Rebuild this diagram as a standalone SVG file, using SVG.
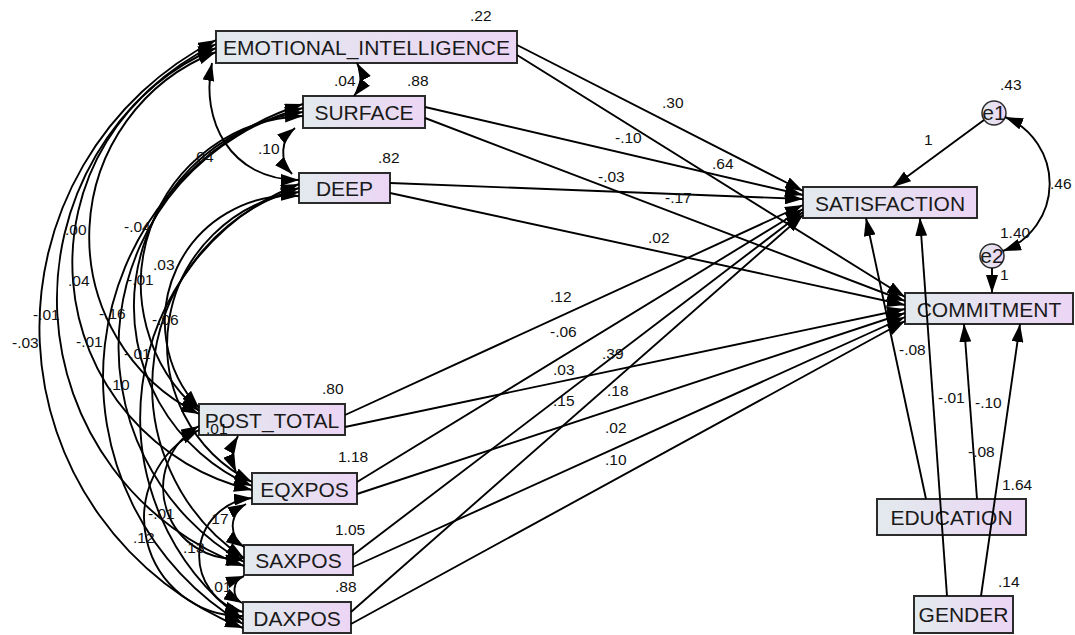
<svg xmlns="http://www.w3.org/2000/svg" width="1075" height="635" viewBox="0 0 1075 635">
<defs>
<linearGradient id="ng" x1="0" y1="0" x2="1" y2="0">
<stop offset="0" stop-color="#e2eaed"/>
<stop offset="1" stop-color="#ecd5f5"/>
</linearGradient>
<marker id="ah" viewBox="0 0 18 12" refX="18" refY="6" markerWidth="18" markerHeight="12" markerUnits="userSpaceOnUse" orient="auto-start-reverse">
<path d="M0,0 L18,6 L0,12 z" fill="#000"/>
</marker>
</defs>
<style>
.box{fill:url(#ng);stroke:#2b2b2b;stroke-width:2}
.circ{fill:url(#ng);stroke:#2b2b2b;stroke-width:1.5}
.nt{font-family:"Liberation Sans",Arial,sans-serif;font-size:21px;fill:#1a1a1a;text-anchor:middle}
.lb{font-family:"Liberation Sans",Arial,sans-serif;font-size:15.5px;fill:#111}
.reg{fill:none;stroke:#000;stroke-width:1.9;marker-end:url(#ah)}
.cov{fill:none;stroke:#000;stroke-width:1.9;marker-start:url(#ah);marker-end:url(#ah)}
</style>
<rect width="1075" height="635" fill="#fff"/>

<g id="EMOTIONAL_INTELLIGENCE"><rect class="box" x="216" y="31" width="301" height="32"/><text class="nt" x="366.5" y="54.5">EMOTIONAL_INTELLIGENCE</text></g>
<g id="SURFACE"><rect class="box" x="303" y="96" width="122" height="32"/><text class="nt" x="364" y="119.5">SURFACE</text></g>
<g id="DEEP"><rect class="box" x="299" y="173" width="91" height="30"/><text class="nt" x="344.5" y="195.5">DEEP</text></g>
<g id="SATISFACTION"><rect class="box" x="803" y="187" width="174" height="31"/><text class="nt" x="890" y="210.5">SATISFACTION</text></g>
<g id="COMMITMENT"><rect class="box" x="905" y="293" width="168" height="31"/><text class="nt" x="989" y="316.5">COMMITMENT</text></g>
<g id="POST_TOTAL"><rect class="box" x="199" y="404" width="146" height="31"/><text class="nt" x="272" y="427.5">POST_TOTAL</text></g>
<g id="EQXPOS"><rect class="box" x="252" y="473" width="105" height="31"/><text class="nt" x="304.5" y="496.5">EQXPOS</text></g>
<g id="SAXPOS"><rect class="box" x="244" y="545" width="109" height="30"/><text class="nt" x="298.5" y="567.5">SAXPOS</text></g>
<g id="DAXPOS"><rect class="box" x="243" y="602" width="108" height="31"/><text class="nt" x="297" y="625.5">DAXPOS</text></g>
<g id="EDUCATION"><rect class="box" x="877" y="499" width="149" height="36"/><text class="nt" x="951.5" y="525">EDUCATION</text></g>
<g id="GENDER"><rect class="box" x="914" y="596" width="99" height="37"/><text class="nt" x="963.5" y="622">GENDER</text></g>
<g id="e1"><circle class="circ" cx="994" cy="113" r="12"/><text class="nt" x="994" y="120">e1</text></g>
<g id="e2"><circle class="circ" cx="992" cy="256" r="12"/><text class="nt" x="992" y="263">e2</text></g>

<g id="connectors">
<line class="reg" x1="517" y1="45" x2="803" y2="191"/>
<line class="reg" x1="425" y1="107" x2="803" y2="195"/>
<line class="reg" x1="390" y1="183" x2="803" y2="199"/>
<line class="reg" x1="345" y1="415" x2="803" y2="205"/>
<line class="reg" x1="357" y1="482" x2="803" y2="209"/>
<line class="reg" x1="353" y1="555" x2="803" y2="212"/>
<line class="reg" x1="351" y1="612" x2="803" y2="215"/>
<line class="reg" x1="517" y1="55" x2="905" y2="297"/>
<line class="reg" x1="425" y1="118" x2="905" y2="301"/>
<line class="reg" x1="390" y1="193" x2="905" y2="305"/>
<line class="reg" x1="345" y1="427" x2="905" y2="309"/>
<line class="reg" x1="357" y1="494" x2="905" y2="313"/>
<line class="reg" x1="353" y1="567" x2="905" y2="317"/>
<line class="reg" x1="351" y1="624" x2="905" y2="321"/>
<line class="reg" x1="926" y1="499" x2="866" y2="218"/>
<line class="reg" x1="947" y1="596" x2="920" y2="218"/>
<line class="reg" x1="977" y1="499" x2="964" y2="324"/>
<line class="reg" x1="981" y1="596" x2="1020" y2="324"/>
<line class="reg" x1="984" y1="120" x2="893" y2="187"/>
<line class="reg" x1="992" y1="268" x2="992" y2="293"/>
<path class="cov" d="M1005,117 A72,72 0 0 1 1003,251"/>
<path class="cov" d="M216,40 A323,323 0 0 0 243,628"/>
<path class="cov" d="M216,44 A284,284 0 0 0 244,566"/>
<path class="cov" d="M216,48 A233,233 0 0 0 252,490"/>
<path class="cov" d="M216,52 A198,198 0 0 0 199,414"/>
<path class="cov" d="M212,63 C200,120 230,180 299,180"/>
<path class="cov" d="M357,63 A30,30 0 0 1 354,96"/>
<path class="cov" d="M295,128 A31,31 0 0 0 292,174"/>
<path class="cov" d="M303,104 A287,287 0 0 0 243,624"/>
<path class="cov" d="M303,108 A247,247 0 0 0 244,562"/>
<path class="cov" d="M303,112 A196,196 0 0 0 252,486"/>
<path class="cov" d="M303,116 A168,168 0 0 0 199,411"/>
<path class="cov" d="M299,184 A251,251 0 0 0 243,620"/>
<path class="cov" d="M299,188 A207,207 0 0 0 244,558"/>
<path class="cov" d="M299,192 A154,154 0 0 0 252,482"/>
<path class="cov" d="M299,196 A126,126 0 0 0 199,408"/>
<path class="cov" d="M199,430 A98,98 0 0 0 243,616"/>
<path class="cov" d="M199,426 A71,71 0 0 0 244,558"/>
<path class="cov" d="M252,498 A58,58 0 0 0 243,612"/>
<path class="cov" d="M238,436 A40,40 0 0 0 236,472"/>
<path class="cov" d="M246,504 A25,25 0 0 0 244,547"/>
<path class="cov" d="M244,576 A15,15 0 0 0 242,603"/>
</g>

<g id="labels" class="lb">
<text x="470" y="21">.22</text>
<text x="407" y="86">.88</text>
<text x="378" y="163">.82</text>
<text x="322" y="394">.80</text>
<text x="338" y="462">1.18</text>
<text x="335" y="535">1.05</text>
<text x="335" y="592">.88</text>
<text x="1000" y="90">.43</text>
<text x="1000" y="238">1.40</text>
<text x="1002" y="490">1.64</text>
<text x="998" y="587">.14</text>
<text x="662" y="108">.30</text>
<text x="615" y="143">-.10</text>
<text x="712" y="169">.64</text>
<text x="598" y="182">-.03</text>
<text x="665" y="203">-.17</text>
<text x="648" y="243">.02</text>
<text x="550" y="302">.12</text>
<text x="550" y="337">-.06</text>
<text x="553" y="375">.03</text>
<text x="553" y="406">.15</text>
<text x="602" y="359">.39</text>
<text x="607" y="396">.18</text>
<text x="605" y="433">.02</text>
<text x="605" y="465">.10</text>
<text x="924" y="145">1</text>
<text x="1000" y="280">1</text>
<text x="1050" y="189">.46</text>
<text x="899" y="355">-.08</text>
<text x="938" y="403">-.01</text>
<text x="975" y="408">-.10</text>
<text x="968" y="457">-.08</text>
<text x="334" y="86">.04</text>
<text x="258" y="154">.10</text>
<text x="192" y="162">.04</text>
<text x="65" y="235">.00</text>
<text x="124" y="232">-.04</text>
<text x="68" y="286">.04</text>
<text x="127" y="285">-.01</text>
<text x="153" y="270">.03</text>
<text x="33" y="320">-.01</text>
<text x="99" y="319">-.16</text>
<text x="152" y="325">-.06</text>
<text x="12" y="348">-.03</text>
<text x="76" y="347">-.01</text>
<text x="124" y="359">-.01</text>
<text x="108" y="390">.10</text>
<text x="206" y="434">.01</text>
<text x="148" y="519">-.01</text>
<text x="133" y="543">.12</text>
<text x="183" y="553">.13</text>
<text x="207" y="524">.17</text>
<text x="210" y="592">.01</text>
</g>
</svg>
